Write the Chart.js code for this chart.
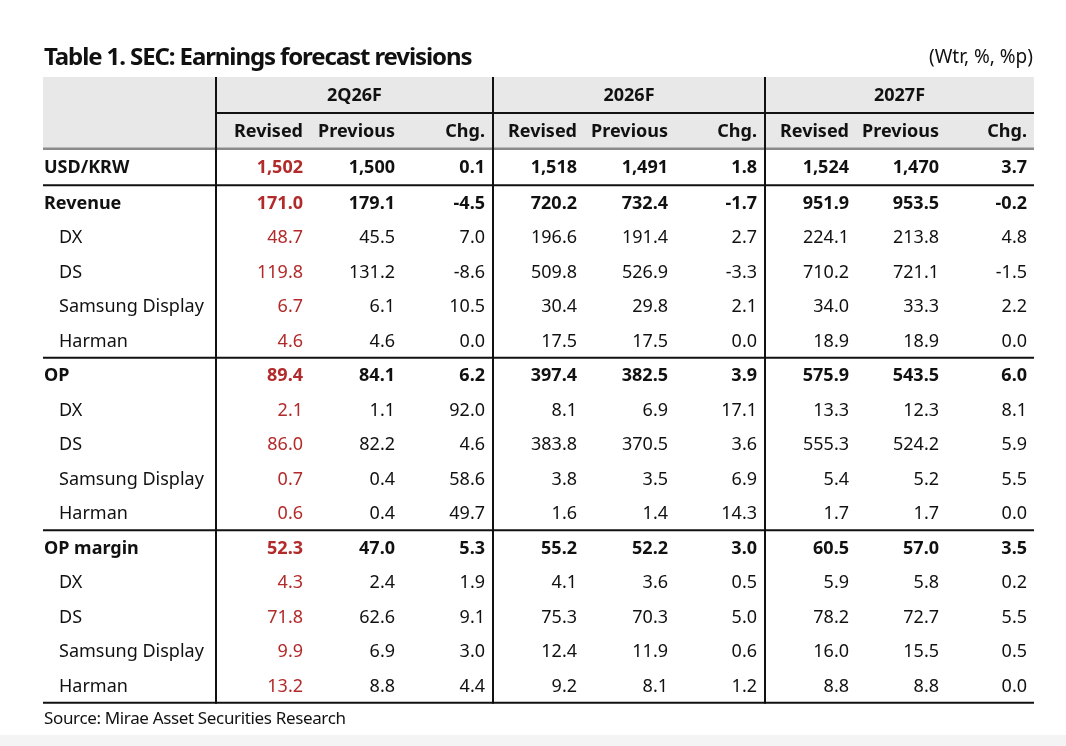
<!DOCTYPE html>
<html><head><meta charset="utf-8">
<script src="https://cdn.jsdelivr.net/npm/chart.js@4.4.1/dist/chart.umd.min.js"></script>
<style>html,body{margin:0;padding:0;background:#fff;overflow:hidden}#wrap{width:1066px;height:746px;position:relative}</style>
</head><body><div id="wrap"><canvas id="c" width="1066" height="746"></canvas></div>
<script>
// ---------- DATA ----------
const titleText = 'Table 1. SEC: Earnings forecast revisions';
const unitNote = '(Wtr, %, %p)';
const sourceText = 'Source: Mirae Asset Securities Research';
const periods = ['2Q26F', '2026F', '2027F'];
const subHeaders = ['Revised', 'Previous', 'Chg.'];
const categories = ['USD/KRW', 'Revenue', 'DX', 'DS', 'Samsung Display', 'Harman',
  'OP', 'DX', 'DS', 'Samsung Display', 'Harman',
  'OP margin', 'DX', 'DS', 'Samsung Display', 'Harman'];
const boldRows = [true, true, false, false, false, false, true, false, false, false, false, true, false, false, false, false];

const revised2Q26F  = [1502, 171.0, 48.7, 119.8, 6.7, 4.6, 89.4, 2.1, 86.0, 0.7, 0.6, 52.3, 4.3, 71.8, 9.9, 13.2];
const previous2Q26F = [1500, 179.1, 45.5, 131.2, 6.1, 4.6, 84.1, 1.1, 82.2, 0.4, 0.4, 47.0, 2.4, 62.6, 6.9, 8.8];
const chg2Q26F      = [0.1, -4.5, 7.0, -8.6, 10.5, 0.0, 6.2, 92.0, 4.6, 58.6, 49.7, 5.3, 1.9, 9.1, 3.0, 4.4];
const revised2026F  = [1518, 720.2, 196.6, 509.8, 30.4, 17.5, 397.4, 8.1, 383.8, 3.8, 1.6, 55.2, 4.1, 75.3, 12.4, 9.2];
const previous2026F = [1491, 732.4, 191.4, 526.9, 29.8, 17.5, 382.5, 6.9, 370.5, 3.5, 1.4, 52.2, 3.6, 70.3, 11.9, 8.1];
const chg2026F      = [1.8, -1.7, 2.7, -3.3, 2.1, 0.0, 3.9, 17.1, 3.6, 6.9, 14.3, 3.0, 0.5, 5.0, 0.6, 1.2];
const revised2027F  = [1524, 951.9, 224.1, 710.2, 34.0, 18.9, 575.9, 13.3, 555.3, 5.4, 1.7, 60.5, 5.9, 78.2, 16.0, 8.8];
const previous2027F = [1470, 953.5, 213.8, 721.1, 33.3, 18.9, 543.5, 12.3, 524.2, 5.2, 1.7, 57.0, 5.8, 72.7, 15.5, 8.8];
const chg2027F      = [3.7, -0.2, 4.8, -1.5, 2.2, 0.0, 6.0, 8.1, 5.9, 5.5, 0.0, 3.5, 0.2, 5.5, 0.5, 0.0];

// ---------- LAYOUT ----------
const FONT = '"Noto Sans", "Open Sans", sans-serif';
const RED = '#b22a2a';
const HEADER_BG = '#e8e8e8';
// x scale: table units (0 = table left edge)
const X_MAX = 991;
const groupEdges = [173, 450, 722];
const colRights = [[260, 352, 442], [534, 625, 714], [806, 896, 984]];
const labelX = 1, subLabelX = 16;
// y scale: row units
const H1 = 1.04, H2 = 1.04, H3 = 1.06;
const yHead1 = H1 / 2, yHead2 = H1 + H2 / 2;
const bodyTop = H1 + H2;
function rowCenter(i) { return i === 0 ? bodyTop + H3 / 2 : bodyTop + H3 + (i - 1) + 0.5; }
const Y_MAX = bodyTop + H3 + (categories.length - 1);
const sectionLines = [bodyTop + H3, bodyTop + H3 + 5, bodyTop + H3 + 10, Y_MAX];

const columns = [
  [revised2Q26F, previous2Q26F, chg2Q26F],
  [revised2026F, previous2026F, chg2026F],
  [revised2027F, previous2027F, chg2027F]
];
function fmt(v, row, col) {
  if (row === 0 && col < 2) return v.toLocaleString('en-US');
  return v.toFixed(1);
}

const datasets = [];
datasets.push({
  label: 'labels', align: 'left',
  texts: categories,
  data: categories.map((c, i) => ({ x: boldRows[i] ? labelX : subLabelX, y: rowCenter(i) })),
  bold: boldRows, colors: categories.map(() => '#111')
});
datasets.push({
  label: 'periods', align: 'center', texts: periods,
  data: periods.map((p, g) => ({ x: (groupEdges[g] + (g < 2 ? groupEdges[g + 1] : X_MAX)) / 2, y: yHead1 })),
  bold: periods.map(() => true), colors: periods.map(() => '#111')
});
periods.forEach((p, g) => {
  datasets.push({
    label: 'sub' + p, align: 'right', texts: subHeaders,
    data: subHeaders.map((s, k) => ({ x: colRights[g][k], y: yHead2 })),
    bold: subHeaders.map(() => true), colors: subHeaders.map(() => '#111')
  });
  columns[g].forEach((arr, k) => {
    datasets.push({
      label: p + subHeaders[k], align: 'right',
      texts: arr.map((v, i) => fmt(v, i, k)),
      data: arr.map((v, i) => ({ x: colRights[g][k], y: rowCenter(i) })),
      bold: boldRows,
      colors: arr.map(() => (g === 0 && k === 0) ? RED : '#111')
    });
  });
});

const tablePlugin = {
  id: 'tablePlugin',
  beforeDatasetsDraw(chart) {
    const { ctx, chartArea: a, scales: { x, y } } = chart;
    ctx.save();
    ctx.fillStyle = '#f4f4f4';
    ctx.fillRect(0, 735, chart.width, chart.height - 735);
    // header fill
    ctx.fillStyle = HEADER_BG;
    ctx.fillRect(x.getPixelForValue(0), y.getPixelForValue(0), x.getPixelForValue(X_MAX) - x.getPixelForValue(0), y.getPixelForValue(bodyTop) - y.getPixelForValue(0));
    // header mid line
    ctx.strokeStyle = '#111'; ctx.lineWidth = 2;
    ctx.beginPath();
    ctx.moveTo(x.getPixelForValue(groupEdges[0]), y.getPixelForValue(H1));
    ctx.lineTo(x.getPixelForValue(X_MAX), y.getPixelForValue(H1));
    ctx.stroke();
    // header bottom grey line
    ctx.strokeStyle = '#8a8a8a'; ctx.lineWidth = 2.5;
    ctx.beginPath();
    ctx.moveTo(x.getPixelForValue(0), y.getPixelForValue(bodyTop));
    ctx.lineTo(x.getPixelForValue(X_MAX), y.getPixelForValue(bodyTop));
    ctx.stroke();
    // section lines
    ctx.strokeStyle = '#111'; ctx.lineWidth = 2;
    sectionLines.forEach(v => {
      ctx.beginPath();
      ctx.moveTo(x.getPixelForValue(0), y.getPixelForValue(v));
      ctx.lineTo(x.getPixelForValue(X_MAX), y.getPixelForValue(v));
      ctx.stroke();
    });
    // vertical lines
    groupEdges.forEach(v => {
      ctx.beginPath();
      ctx.moveTo(x.getPixelForValue(v), y.getPixelForValue(0));
      ctx.lineTo(x.getPixelForValue(v), y.getPixelForValue(Y_MAX) + 1);
      ctx.stroke();
    });
    ctx.restore();
  },
  afterDatasetsDraw(chart) {
    const { ctx, chartArea: a } = chart;
    ctx.save();
    ctx.textBaseline = 'middle';
    chart.data.datasets.forEach((ds, di) => {
      const meta = chart.getDatasetMeta(di);
      ctx.textAlign = ds.align;
      meta.data.forEach((el, i) => {
        ctx.font = (ds.bold[i] ? 'bold ' : '') + '18px ' + FONT;
        ctx.fillStyle = ds.colors[i];
        ctx.fillText(ds.texts[i], el.x, el.y + 1);
      });
    });
    // title, unit note, source
    ctx.fillStyle = '#111';
    ctx.textBaseline = 'alphabetic';
    ctx.textAlign = 'left';
    ctx.font = 'bold 24px ' + FONT;
    ctx.letterSpacing = '-1.1px';
    ctx.fillText(titleText, a.left + 1, a.top - 12.5);
    ctx.letterSpacing = '0px';
    ctx.textAlign = 'right';
    ctx.font = '19px ' + FONT;
    ctx.fillText(unitNote, a.right - 1, a.top - 14.5);
    ctx.textAlign = 'left';
    ctx.font = '17px ' + FONT;
    ctx.letterSpacing = '-0.35px';
    ctx.fillText(sourceText, a.left + 1, a.bottom + 21.5);
    ctx.letterSpacing = '0px';
    ctx.restore();
  }
};

new Chart(document.getElementById('c'), {
  type: 'scatter',
  data: { datasets },
  options: {
    responsive: false, animation: false,
    layout: { padding: { left: 43, right: 32, top: 77, bottom: 43.2 } },
    scales: {
      x: { type: 'linear', min: 0, max: X_MAX, display: false },
      y: { type: 'linear', min: 0, max: Y_MAX, reverse: true, display: false }
    },
    elements: { point: { radius: 0, hoverRadius: 0 } },
    plugins: { legend: { display: false }, tooltip: { enabled: false } },
    events: []
  },
  plugins: [tablePlugin]
});
</script></body></html>
